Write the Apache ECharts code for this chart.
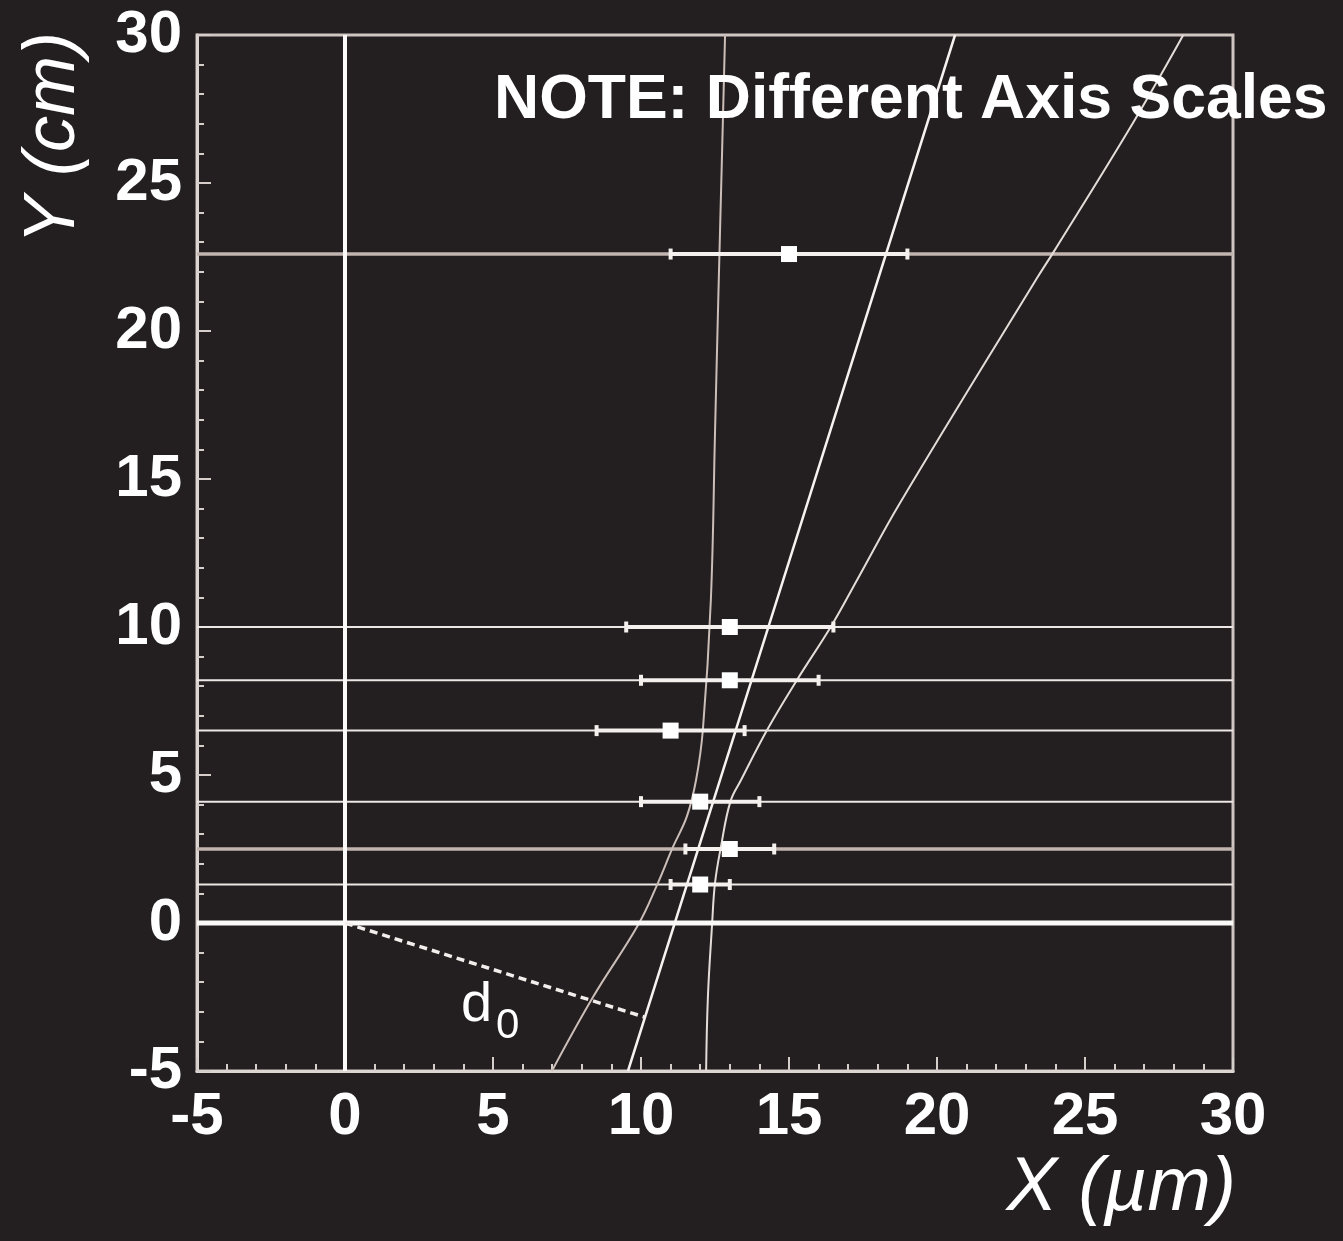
<!DOCTYPE html>
<html>
<head>
<meta charset="utf-8">
<script src="https://cdn.jsdelivr.net/npm/echarts@6/dist/echarts.min.js"></script>
<style>
  html, body { margin: 0; padding: 0; background: #231f20; }
  #chart { width: 1343px; height: 1241px; }
</style>
</head>
<body>
<div id="chart"></div>
<script>
// Axis ranges (X in µm, Y in cm)
const xRange = [-5, 30];
const yRange = [-5, 30];
const tickStep = 5;

// Detector layer radii (cm) and the measured hit positions (µm) with errors
const layerY   = [1.3, 2.5, 4.1, 6.5, 8.2, 10.0, 22.6];
const hitX     = [12, 13, 12, 11, 13, 13, 15];
const hitErr   = [1, 1.5, 2, 2.5, 3, 3.5, 4];
const layerHeavy = [false, true, false, false, false, false, true];

// Candidate track curves, points as [x (µm), y (cm)]
const trackA = [[6.99, -5], [8.38, -2.5], [9.9, -0.07], [10.57, 1.35], [11.08, 2.57],
                [11.55, 3.6], [11.86, 4.83], [12.09, 6.52], [12.36, 10.91], [12.5, 16.55],
                [12.61, 21.05], [12.73, 25.68], [12.84, 30]];
const trackB = [[9.56, -5], [14.59, 10.91], [20.61, 30]];
const trackC = [[12.2, -5], [12.26, -2.5], [12.4, -0.07], [12.5, 1.35], [12.7, 2.57],
                [13.02, 4.1], [13.38, 4.83], [14.26, 6.52], [15.27, 8.21], [16.45, 10.07],
                [17.3, 11.59], [18.75, 14.19], [23.38, 21.79], [23.92, 22.64], [26.62, 27.03],
                [28.32, 30]];

// Impact parameter segment from the origin to the track
const d0Segment = [[0, 0], [10.12, -3.18]];
// Label anchors for "d" and its subscript, in data units
const d0Main = [3.92, -2.79];
const d0Sub  = [5.1, -3.51];

const FONT = '"Liberation Sans", Arial, Helvetica, sans-serif';

const chart = echarts.init(document.getElementById('chart'), null, { renderer: 'canvas' });

const axisCommon = {
  type: 'value',
  interval: tickStep,
  axisLine: { show: true, onZero: false, lineStyle: { color: '#ddd5d1', width: 3 } },
  axisTick: { show: true, inside: true, length: 14, lineStyle: { color: '#d6ceca', width: 2 } },
  minorTick: { show: true, splitNumber: 5, length: 7, lineStyle: { color: '#d6ceca', width: 2 } },
  splitLine: { show: false },
  minorSplitLine: { show: false },
  axisLabel: { color: '#ffffff', fontSize: 60, fontWeight: 'bold', fontFamily: FONT }
};

// Horizontal lines for every layer across the full x range
const layerSeries = layerY.map((y, i) => ({
  type: 'line',
  data: [[xRange[0], y], [xRange[1], y]],
  symbol: 'none',
  silent: true,
  z: 2,
  lineStyle: layerHeavy[i] ? { color: '#c2b4ae', width: 3.5 } : { color: '#ebe7e5', width: 2 }
}));

function trackSeries(data, color, width) {
  return {
    type: 'line', data: data, symbol: 'none', smooth: 0.4, silent: true, z: 3,
    lineStyle: { color: color, width: width }
  };
}

const errData = layerY.map((y, i) => [hitX[i], y, hitErr[i]]);

const option = {
  backgroundColor: '#231f20',
  animation: false,
  grid: { left: 197, right: 110, top: 35, bottom: 170, show: true, borderColor: '#cfc5c1', borderWidth: 3, containLabel: false },
  xAxis: Object.assign({}, axisCommon, {
    min: xRange[0], max: xRange[1], position: 'bottom',
    axisLabel: Object.assign({}, axisCommon.axisLabel, { margin: 16 })
  }),
  yAxis: Object.assign({}, axisCommon, {
    min: yRange[0], max: yRange[1], position: 'left',
    axisLabel: Object.assign({}, axisCommon.axisLabel, { margin: 15 })
  }),
  series: [
    ...layerSeries,
    trackSeries(trackA, '#cbbdb7', 2),
    trackSeries(trackB, '#f6f2f0', 2.5),
    trackSeries(trackC, '#e4dcd8', 2),
    {
      // origin axes: Y = 0 and X = 0
      type: 'line', data: [[xRange[0], 0], [xRange[1], 0]], symbol: 'none', silent: true, z: 4,
      lineStyle: { color: '#fbf9f8', width: 5 }
    },
    {
      type: 'line', data: [[0, yRange[0]], [0, yRange[1]]], symbol: 'none', silent: true, z: 4,
      lineStyle: { color: '#fbf9f8', width: 4 }
    },
    {
      type: 'line', data: d0Segment, symbol: 'none', silent: true, z: 4,
      lineStyle: { color: '#f2eeec', width: 3.5, type: [8, 5] }
    },
    {
      // horizontal error bars with end caps
      type: 'custom', z: 5, silent: true,
      data: errData,
      renderItem: function (params, api) {
        const x = api.value(0), y = api.value(1), e = api.value(2);
        const p1 = api.coord([x - e, y]);
        const p2 = api.coord([x + e, y]);
        const capH = 11, capW = 4;
        return {
          type: 'group',
          children: [
            { type: 'line', shape: { x1: p1[0], y1: p1[1], x2: p2[0], y2: p2[1] },
              style: { stroke: '#f4f0ee', lineWidth: 4 } },
            { type: 'rect', shape: { x: p1[0] - capW / 2, y: p1[1] - capH / 2, width: capW, height: capH },
              style: { fill: '#f4f0ee' } },
            { type: 'rect', shape: { x: p2[0] - capW / 2, y: p2[1] - capH / 2, width: capW, height: capH },
              style: { fill: '#f4f0ee' } }
          ]
        };
      }
    },
    {
      type: 'scatter', z: 6, silent: true,
      data: layerY.map((y, i) => [hitX[i], y]),
      symbol: 'rect', symbolSize: 16,
      itemStyle: { color: '#ffffff', opacity: 1 }
    }
  ]
};

chart.setOption(option);

// Text annotations: note, axis titles and the d0 label
const pD = chart.convertToPixel({ gridIndex: 0 }, d0Main);
const pS = chart.convertToPixel({ gridIndex: 0 }, d0Sub);

chart.setOption({
  graphic: [
    { type: 'text', x: 494, y: 101, z: 10,
      style: { text: 'NOTE: Different Axis Scales', font: 'bold 62.5px ' + FONT, fill: '#ffffff',
               align: 'left', verticalAlign: 'middle', textAlign: 'left', textVerticalAlign: 'middle' } },
    { type: 'text', x: 1236, y: 1189, z: 10,
      style: { text: 'X (µm)', font: 'italic 76px ' + FONT, fill: '#ffffff',
               align: 'right', verticalAlign: 'middle', textAlign: 'right', textVerticalAlign: 'middle' } },
    { type: 'text', x: 54, y: 32, rotation: Math.PI / 2, z: 10,
      style: { text: 'Y (cm)', font: 'italic 72px ' + FONT, fill: '#ffffff',
               align: 'right', verticalAlign: 'middle', textAlign: 'right', textVerticalAlign: 'middle' } },
    { type: 'text', x: pD[0], y: pD[1], z: 10,
      style: { text: 'd', font: '56px ' + FONT, fill: '#ffffff',
               align: 'left', verticalAlign: 'middle', textAlign: 'left', textVerticalAlign: 'middle' } },
    { type: 'text', x: pS[0], y: pS[1], z: 10,
      style: { text: '0', font: '42px ' + FONT, fill: '#ffffff',
               align: 'left', verticalAlign: 'middle', textAlign: 'left', textVerticalAlign: 'middle' } }
  ]
});
</script>
</body>
</html>
